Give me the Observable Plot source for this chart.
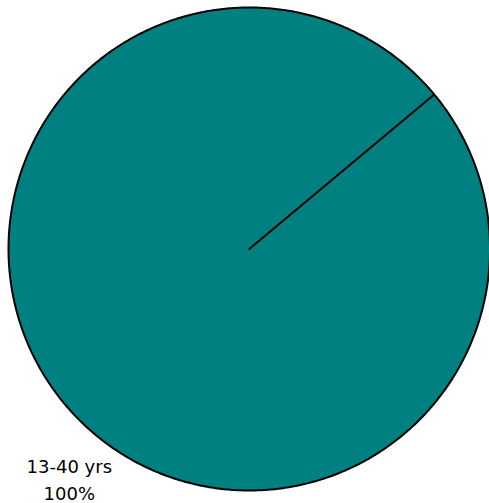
<!DOCTYPE html>
<html><head><meta charset="utf-8">
<script src="https://cdn.jsdelivr.net/npm/d3@7"></script>
<script src="https://cdn.jsdelivr.net/npm/@observablehq/plot@0.6"></script>
<style>body{margin:0;background:#fff}</style>
</head><body><div id="chart"></div>
<script>
const categories = ["13-40 yrs"];
const values = [100];
const colors = ["#008080"];
const firstSliceAngle = 50.2; // degrees, clockwise from 12 o'clock

const total = d3.sum(values);
const a0 = firstSliceAngle * Math.PI / 180;
const arcs = d3.pie().sort(null).startAngle(a0).endAngle(a0 + 2 * Math.PI)(values);

const slices = arcs.flatMap((a, i) => {
  const n = Math.max(2, Math.ceil((a.endAngle - a.startAngle) / (Math.PI / 360)));
  const pts = [{i, x: 0, y: 0}];
  for (let k = 0; k <= n; k++) {
    const t = a.startAngle + (a.endAngle - a.startAngle) * k / n;
    pts.push({i, x: Math.sin(t), y: Math.cos(t)});
  }
  pts.push({i, x: 0, y: 0});
  return pts;
});

const labels = arcs.map((a, i) => {
  const m = (a.startAngle + a.endAngle) / 2;
  return {x: Math.sin(m), y: Math.cos(m), text: `${categories[i]}\n${Math.round(values[i] / total * 100)}%`};
});

const chart = Plot.plot({
  width: 489,
  height: 503,
  margin: 0,
  style: {background: "#fff"},
  x: {domain: [-1, 1], range: [8, 489.5], axis: null},
  y: {domain: [-1, 1], range: [490, 7], axis: null},
  color: {type: "identity"},
  marks: [
    Plot.line(slices, {x: "x", y: "y", z: "i", fill: d => colors[d.i], stroke: "black", strokeWidth: 2, curve: "linear", strokeLinejoin: "round"}),
    Plot.text(labels, {x: "x", y: "y", text: "text", fontSize: 18, fontFamily: "DejaVu Sans", fill: "black", lineHeight: 1.5, lineAnchor: "middle", dx: 5, dy: 74})
  ]
});
document.getElementById("chart").appendChild(chart);
</script>
</body></html>
